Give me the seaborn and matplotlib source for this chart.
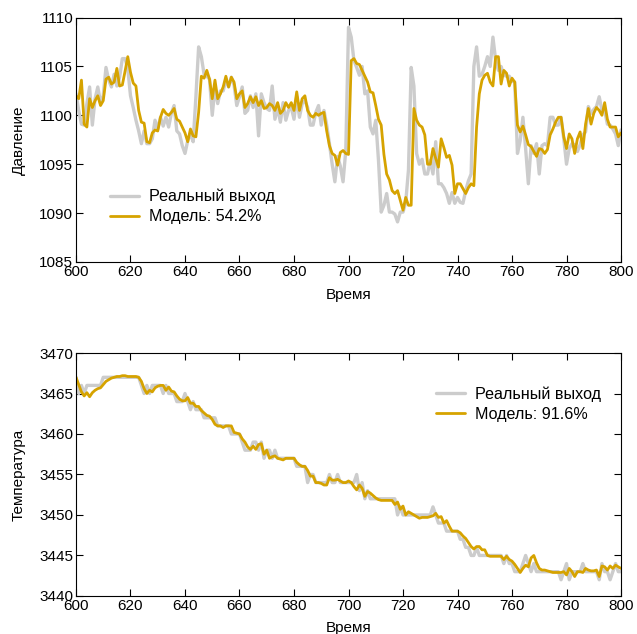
import numpy as np
import pandas as pd
import matplotlib
matplotlib.use("Agg")
import matplotlib.pyplot as plt
import seaborn as sns

time = list(range(600, 801))

pressure_real = [
    1102.2, 1100.5, 1099.1, 1099.0, 1101.2, 1102.9, 1099.0, 1101.7, 1102.9, 1101.3,
    1102.0, 1104.9, 1103.6, 1102.9, 1104.2, 1103.0, 1103.9, 1105.8, 1105.8, 1104.8,
    1102.0, 1100.8, 1099.5, 1098.4, 1097.1, 1098.4, 1097.1, 1097.1, 1097.6, 1099.5,
    1098.6, 1099.8, 1098.9, 1099.8, 1098.8, 1100.2, 1101.0, 1098.4, 1098.1, 1096.9,
    1096.1, 1097.4, 1098.1, 1097.3, 1101.9, 1107.0, 1106.0, 1104.2, 1104.0, 1103.7,
    1100.0, 1102.9, 1101.2, 1102.5, 1102.5, 1103.6, 1102.9, 1103.9, 1103.1, 1101.0,
    1101.9, 1102.9, 1100.2, 1100.5, 1102.0, 1100.8, 1102.2, 1097.9, 1102.2, 1101.3,
    1100.7, 1100.5, 1103.0, 1099.6, 1100.8, 1099.3, 1101.3, 1099.5, 1100.5, 1100.8,
    1099.6, 1101.9, 1099.8, 1101.2, 1101.5, 1100.8, 1099.0, 1099.0, 1100.3, 1101.0,
    1099.0, 1100.5, 1099.0, 1097.1, 1095.0, 1093.2, 1095.8, 1094.8, 1093.2, 1096.4,
    1109.0, 1108.0, 1105.6, 1104.9, 1104.1, 1105.0, 1102.2, 1102.5, 1098.8, 1098.1,
    1099.5, 1095.4, 1090.1, 1090.8, 1092.0, 1090.1, 1090.1, 1089.9, 1089.1, 1090.1,
    1090.1, 1091.1, 1094.4, 1104.9, 1103.0, 1096.1, 1095.0, 1095.5, 1094.0, 1094.0,
    1095.4, 1094.0, 1097.3, 1093.0, 1093.0, 1092.6, 1092.0, 1091.0, 1092.1, 1091.0,
    1091.6, 1091.1, 1091.0, 1092.3, 1093.3, 1094.0, 1105.0, 1107.0, 1104.0, 1104.2,
    1105.0, 1106.0, 1105.0, 1108.0, 1105.6, 1104.6, 1105.0, 1104.1, 1104.0, 1104.0,
    1103.5, 1103.4, 1096.1, 1097.4, 1099.8, 1096.6, 1093.0, 1096.9, 1096.1, 1097.1,
    1094.0, 1096.9, 1097.1, 1096.9, 1099.8, 1099.8, 1099.0, 1099.0, 1099.8, 1097.6,
    1095.0, 1096.6, 1097.1, 1097.0, 1096.3, 1097.0, 1098.0, 1098.3, 1100.9, 1100.2,
    1100.6, 1100.9, 1101.9, 1100.5, 1100.5, 1099.1, 1099.0, 1098.6, 1098.1, 1096.9,
    1098.5,
]

pressure_model = [
    1102.0, 1101.7, 1103.6, 1099.1, 1098.8, 1101.7, 1100.8, 1101.5, 1102.0, 1101.0,
    1101.5, 1103.7, 1103.9, 1103.2, 1103.4, 1104.8, 1103.0, 1103.1, 1104.5, 1106.0,
    1104.4, 1103.3, 1103.0, 1100.5, 1099.3, 1099.2, 1097.3, 1097.2, 1098.2, 1098.5,
    1098.4, 1099.8, 1100.6, 1100.2, 1100.0, 1100.3, 1100.7, 1099.6, 1099.4, 1098.8,
    1098.2, 1097.3, 1098.6, 1097.9, 1097.8, 1100.3, 1104.0, 1103.8, 1104.6, 1103.7,
    1101.7, 1103.6, 1101.7, 1102.2, 1102.9, 1104.0, 1102.9, 1103.9, 1103.4, 1101.7,
    1102.2, 1102.5, 1100.8, 1101.2, 1101.9, 1101.3, 1101.9, 1101.0, 1101.5, 1100.7,
    1100.8, 1101.2, 1101.0, 1100.5, 1101.3, 1100.2, 1100.5, 1101.3, 1100.8, 1101.3,
    1100.5, 1102.4, 1100.5, 1101.7, 1102.0, 1100.5, 1100.0, 1099.8, 1100.2, 1100.0,
    1100.2, 1100.3, 1098.4, 1096.9, 1096.1, 1095.9, 1094.9, 1096.2, 1096.4, 1096.1,
    1096.0, 1105.6, 1105.8, 1105.3, 1105.2, 1104.6, 1104.0, 1103.4, 1102.4, 1102.3,
    1101.0, 1099.6, 1099.0, 1096.0, 1094.0, 1093.4, 1092.3, 1092.0, 1092.3, 1091.3,
    1090.3, 1091.6, 1090.8, 1090.8, 1100.7, 1099.5, 1099.0, 1098.8, 1098.0, 1095.0,
    1095.0, 1096.6, 1095.6, 1094.7, 1097.6, 1096.7, 1095.7, 1095.9, 1094.9, 1092.0,
    1093.0, 1093.0, 1092.5, 1092.0, 1092.6, 1093.0, 1092.8, 1098.8, 1102.2, 1103.6,
    1104.1, 1104.3, 1103.4, 1103.0, 1106.0, 1106.0, 1103.2, 1104.6, 1104.3, 1103.0,
    1103.8, 1103.4, 1099.0, 1098.3, 1098.9, 1098.0, 1097.0, 1096.8, 1096.3, 1095.8,
    1096.6, 1096.5, 1096.1, 1096.5, 1098.0, 1098.6, 1099.3, 1099.8, 1099.8, 1097.8,
    1096.6, 1098.1, 1097.6, 1096.1, 1097.6, 1098.3, 1096.6, 1099.1, 1100.7, 1099.1,
    1100.2, 1100.8, 1100.5, 1100.0, 1101.3, 1099.6, 1098.8, 1098.8, 1098.8, 1097.8,
    1098.2,
]

temp_real = [
    3467, 3465, 3466, 3465, 3466, 3466, 3466, 3466, 3466, 3466,
    3467, 3467, 3467, 3467, 3467, 3467, 3467, 3467, 3467, 3467,
    3467, 3467, 3467, 3467, 3466, 3465, 3466, 3465, 3466, 3466,
    3466, 3466, 3465, 3466, 3465, 3465, 3465, 3464, 3464, 3464,
    3465, 3464, 3463, 3464, 3463, 3463, 3463, 3462, 3462, 3462,
    3462, 3462, 3461, 3461, 3461, 3461, 3461, 3460, 3460, 3460,
    3460, 3459, 3458, 3458, 3458, 3459, 3459, 3458, 3459, 3457,
    3458, 3458, 3457, 3458, 3457, 3457, 3457, 3457, 3457, 3457,
    3457, 3456, 3456, 3456, 3456, 3454, 3455, 3455, 3454, 3454,
    3454, 3454, 3454, 3455, 3454, 3454, 3455, 3454, 3454, 3454,
    3454, 3454, 3454, 3455, 3453, 3454, 3452, 3453, 3452, 3452,
    3452, 3452, 3452, 3452, 3452, 3452, 3452, 3452, 3450, 3451,
    3450, 3450, 3450, 3450, 3450, 3450, 3450, 3450, 3450, 3450,
    3450, 3451, 3450, 3449, 3449, 3449, 3448, 3448, 3448, 3448,
    3448, 3447, 3447, 3446, 3446, 3445, 3445, 3446, 3445, 3445,
    3445, 3445, 3445, 3445, 3445, 3445, 3445, 3444, 3445, 3444,
    3444, 3443, 3443, 3443, 3444, 3445, 3444, 3443, 3444, 3443,
    3443, 3443, 3443, 3443, 3443, 3443, 3443, 3443, 3442, 3443,
    3444, 3442, 3443, 3443, 3443, 3443, 3444, 3443, 3443, 3443,
    3443, 3443, 3442, 3444, 3443, 3443, 3442, 3443, 3444, 3443,
    3443,
]

temp_model = [
    3467.0, 3466.1, 3465.2, 3464.7, 3465.1, 3464.6, 3465.1, 3465.4, 3465.6, 3465.7,
    3466.1, 3466.5, 3466.7, 3466.9, 3467.0, 3467.1, 3467.1, 3467.2, 3467.2, 3467.1,
    3467.1, 3467.1, 3467.1, 3467.0, 3466.5, 3465.6, 3465.0, 3465.4, 3465.2, 3465.7,
    3465.9, 3466.0, 3466.0, 3465.4, 3465.8, 3465.3, 3465.2, 3464.7, 3464.3, 3464.1,
    3464.1, 3464.5, 3463.8, 3463.8, 3463.4, 3463.4, 3462.9, 3462.6, 3462.3, 3462.2,
    3461.8, 3461.2, 3461.0, 3461.0, 3460.8, 3461.0, 3461.0, 3461.0, 3460.2, 3460.1,
    3460.0, 3459.4, 3459.0, 3458.4, 3458.1, 3458.5, 3458.1, 3458.7, 3458.8, 3457.5,
    3458.0, 3457.0, 3457.2, 3457.3, 3457.0, 3456.9, 3456.8, 3457.0, 3457.0, 3457.0,
    3457.0, 3456.5, 3456.2, 3456.0, 3456.0, 3455.5, 3454.8, 3454.8, 3454.0, 3454.0,
    3453.9, 3453.7, 3453.7, 3454.6, 3454.3, 3454.3, 3454.4, 3454.2, 3454.0, 3454.0,
    3454.2, 3454.0, 3453.5, 3453.1, 3453.7, 3453.3, 3452.3, 3452.9, 3452.7, 3452.4,
    3452.1, 3451.9, 3451.8, 3451.8, 3451.8, 3451.8, 3451.8, 3451.3, 3451.6, 3450.7,
    3451.1, 3450.0, 3450.4, 3450.2, 3450.0, 3449.8, 3449.6, 3449.7, 3449.7, 3449.7,
    3449.8, 3449.9, 3450.2, 3449.7, 3449.8, 3449.0, 3449.3, 3448.6, 3448.0, 3448.0,
    3448.0, 3447.8, 3447.4, 3447.1, 3446.6, 3446.1, 3445.8, 3446.1, 3446.1, 3445.7,
    3445.7, 3445.0, 3444.9, 3444.9, 3444.9, 3444.9, 3444.9, 3444.5, 3444.9, 3444.5,
    3444.3, 3443.9, 3443.4, 3442.9, 3443.4, 3443.8, 3443.6, 3444.7, 3445.0, 3444.1,
    3443.4, 3443.2, 3443.2, 3443.1, 3443.0, 3442.9, 3442.9, 3442.9, 3442.9, 3443.0,
    3442.6, 3443.4, 3443.0, 3442.4, 3443.0, 3443.0, 3442.9, 3443.4, 3443.2, 3443.1,
    3443.1, 3443.2, 3442.4, 3443.7, 3443.6, 3443.2, 3443.7, 3443.4, 3443.8, 3443.6,
    3443.4,
]

x_ticks = [600, 620, 640, 660, 680, 700, 720, 740, 760, 780, 800]
p_ticks = [1085, 1090, 1095, 1100, 1105, 1110]
t_ticks = [3440, 3445, 3450, 3455, 3460, 3465, 3470]

label_real = "Реальный выход"
label_p_model = "Модель: 54.2%"
label_t_model = "Модель: 91.6%"

GRAY = "#cccccc"
GOLD = "#d6a300"

sns.set_style("ticks")
plt.rcParams["font.family"] = ["Liberation Sans", "DejaVu Sans"]
plt.rcParams["axes.linewidth"] = 0.8
plt.rcParams["xtick.direction"] = "in"
plt.rcParams["ytick.direction"] = "in"
plt.rcParams["text.color"] = "black"
plt.rcParams["axes.labelcolor"] = "black"
plt.rcParams["xtick.color"] = "black"
plt.rcParams["ytick.color"] = "black"
plt.rcParams["xtick.labelcolor"] = "black"
plt.rcParams["ytick.labelcolor"] = "black"

fig = plt.figure(figsize=(6.37, 6.34), dpi=100)
ax1 = fig.add_axes([0.1193, 0.5868, 0.8556, 0.3855])
ax2 = fig.add_axes([0.1193, 0.0600, 0.8556, 0.3832])

df_p = pd.DataFrame({"t": time, "real": pressure_real, "model": pressure_model})
df_t = pd.DataFrame({"t": time, "real": temp_real, "model": temp_model})

sns.lineplot(data=df_p, x="t", y="real", ax=ax1, color=GRAY, lw=2.4, label=label_real)
sns.lineplot(data=df_p, x="t", y="model", ax=ax1, color=GOLD, lw=2.0, label=label_p_model)
sns.lineplot(data=df_t, x="t", y="real", ax=ax2, color=GRAY, lw=2.4, label=label_real)
sns.lineplot(data=df_t, x="t", y="model", ax=ax2, color=GOLD, lw=2.0, label=label_t_model)

for ax, yt, ylab, xpad in [(ax1, p_ticks, "Давление", 7), (ax2, t_ticks, "Температура", 6)]:
    ax.set_xlim(600, 800)
    ax.set_ylim(yt[0], yt[-1])
    ax.set_xticks(x_ticks)
    ax.set_yticks(yt)
    ax.set_xlabel("Время", fontsize=11, labelpad=xpad, color="black")
    ax.set_ylabel(ylab, fontsize=11, labelpad=9.5, color="black")
    ax.tick_params(axis="both", which="both", direction="in", top=True, right=True,
                   length=5, width=0.8, labelsize=11, pad=2, color="black",
                   labelcolor="black")
    for s in ax.spines.values():
        s.set_visible(True)
        s.set_color("black")
        s.set_linewidth(0.8)

ax1.legend(loc="lower left", bbox_to_anchor=(0.035, 0.095), frameon=False, fontsize=11.6,
           handlelength=1.85, handletextpad=0.6, labelspacing=0.3)
ax2.legend(loc="upper right", bbox_to_anchor=(0.99, 0.922), frameon=False, fontsize=11.6,
           handlelength=1.85, handletextpad=0.6, labelspacing=0.3)

fig.savefig("out.png", dpi=100)
